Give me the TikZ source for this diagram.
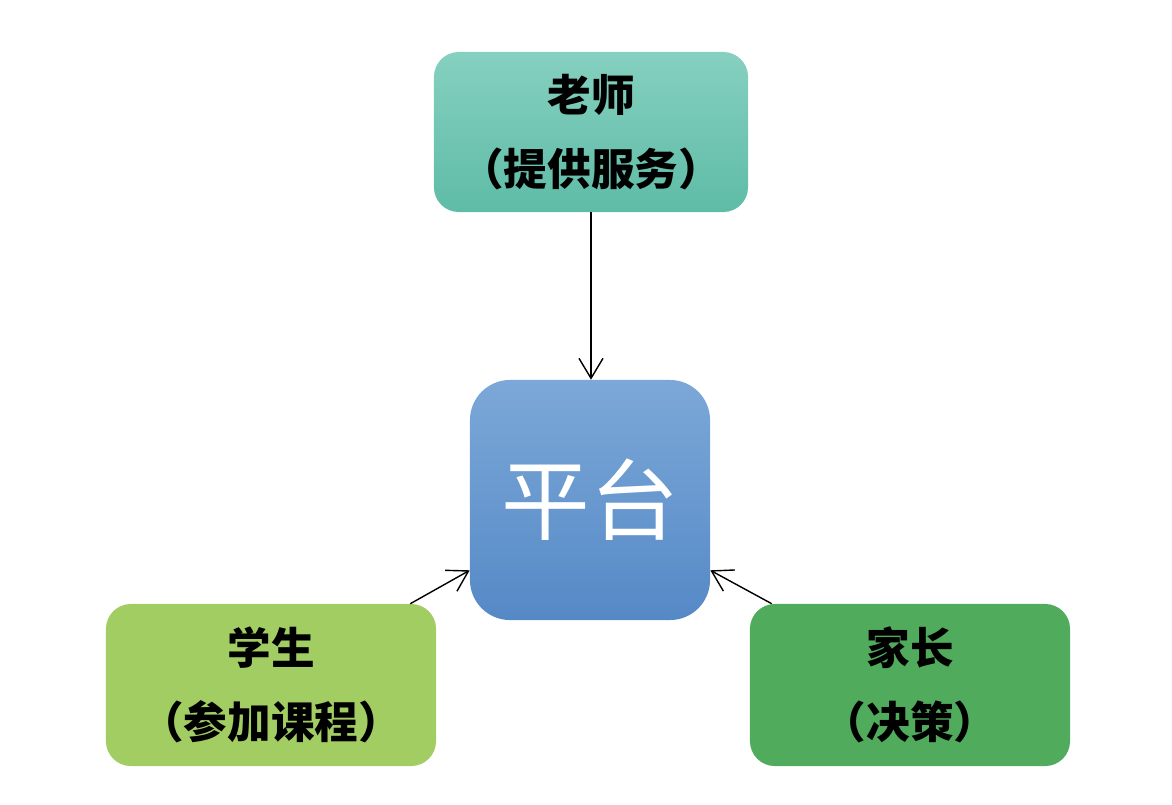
\documentclass[tikz,border=0pt]{standalone}
\usepackage{fontspec}
\newfontfamily\cjk{Noto Sans CJK SC}
\usetikzlibrary{arrows.meta}
\definecolor{tealtop}{RGB}{134,208,192}
\definecolor{tealbot}{RGB}{94,188,166}
\definecolor{bluetop}{RGB}{124,168,216}
\definecolor{bluebot}{RGB}{85,137,198}
\definecolor{studentgreen}{RGB}{162,205,99}
\definecolor{parentgreen}{RGB}{80,171,92}
\tikzset{
  rolebox/.style={rounded corners=0.62cm, inner sep=0pt, align=center,
    font=\cjk\bfseries\fontsize{31pt}{53pt}\selectfont, text=black},
  conn/.style={-{Straight Barb[length=0.5cm,width=0.6cm]}, line width=1pt, black}
}
\begin{document}
\begin{tikzpicture}[x=0.025cm,y=-0.025cm]
\useasboundingbox (0,0) rectangle (1172,804);
\node[rolebox, minimum width=7.85cm, minimum height=4cm,
  top color=tealtop, bottom color=tealbot] (teacher) at (591,132) {老师\\（提供服务）};
\node[rounded corners=1cm, minimum width=6cm, minimum height=6cm, inner sep=0pt,
  top color=bluetop, bottom color=bluebot, text=white,
  font=\cjk\fontsize{63pt}{63pt}\selectfont] (platform) at (590,500) {平台};
\node[rolebox, minimum width=8.25cm, minimum height=4.05cm,
  fill=studentgreen] (student) at (271,685) {学生\\（参加课程）};
\node[rolebox, minimum width=8cm, minimum height=4.05cm,
  fill=parentgreen] (parent) at (910,685) {家长\\（决策）};
\draw[conn] (teacher.south) -- (teacher.south |- platform.north);
\draw[conn] ([xshift=-0.65cm]student.north east) -- ([yshift=1.25cm]platform.south west);
\draw[conn] ([xshift=0.55cm]parent.north west) -- ([yshift=1.25cm]platform.south east);
\end{tikzpicture}
\end{document}
